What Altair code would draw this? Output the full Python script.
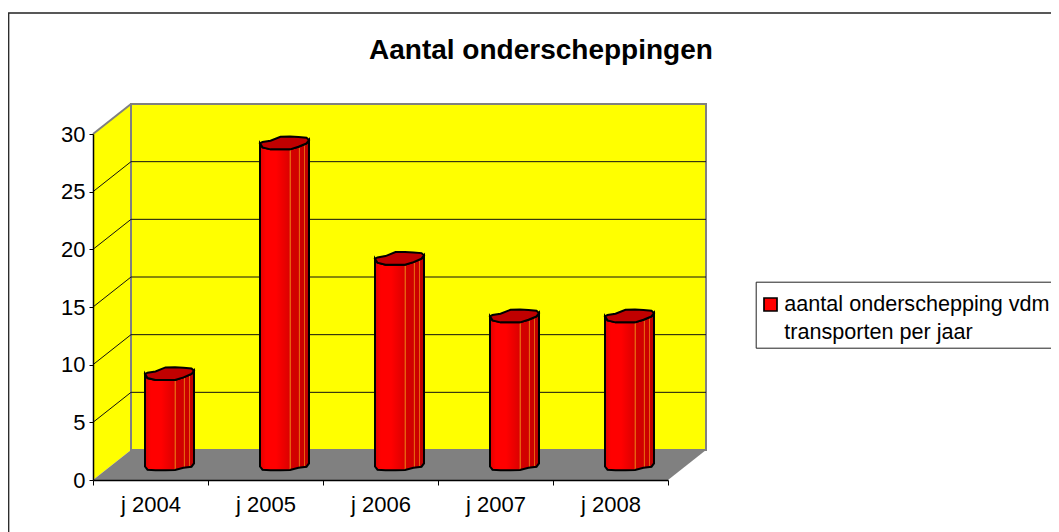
import altair as alt
import pandas as pd

FONT = "Liberation Sans"
years = ["j 2004", "j 2005", "j 2006", "j 2007", "j 2008"]
counts = [8, 28, 18, 13, 13]
legend_lines = ["aantal onderschepping vdm", "transporten per jaar"]
y_ticks = [0, 5, 10, 15, 20, 25, 30]
title_text = "Aantal onderscheppingen"

# plot scale: one category = 115 px, one count = 346/30 px
PX_X = 115.0
PX_Y = 346.0 / 30
DX = 38 / PX_X      # depth of the 3D box, in category units
DY = 30 / PX_Y      # depth of the 3D box, in count units

# outline of the cylinder, px relative to its centre
prof_x = [-24.5, -22, -14, -4, 5.5, 14, 22, 24.5]
cap_up = [-1.3, 0, 1.3, 5.3, 5.5, 5, 4.3, 2]
cap_lo = [-1.3, -5.3, -7.3, -7.3, -7.3, -4.7, -1.3, 2]
base = [-1.5, -4.7, -5.2, -5.2, -5, -2.7, -1.7, 1.7]

xs = alt.Scale(domain=[0, 5], nice=False, zero=False)
ys = alt.Scale(domain=[0, 30], nice=False, zero=False)
X = lambda f="x": alt.X(f"{f}:Q", scale=xs, axis=None)
Y = lambda f="y": alt.Y(f"{f}:Q", scale=ys, axis=None)

label_js = "[" + ",".join(f"'{y}'" for y in years) + "]"
x_axis = alt.Axis(
    values=list(range(6)), grid=False, domainColor="black", domainWidth=1.5, tickColor="black",
    tickSize=5, tickWidth=1, labelExpr=f"{label_js}[datum.value] || ''", labelOffset=57.5,
    labelAlign="center", labelFont=FONT, labelFontSize=22, labelColor="black", labelPadding=9,
    labelFlush=False, labelOverlap=False, zindex=1)
y_axis = alt.Axis(
    values=y_ticks, grid=False, domainColor="black", domainWidth=1.5, tickColor="black",
    tickSize=4, tickWidth=1, labelFont=FONT, labelFontSize=22, labelColor="black", labelPadding=4,
    zindex=1)

# chart frame (carries the axes)
frame = alt.Chart(pd.DataFrame([{"x": -0.733, "x2": 9.0, "y": 40.49, "y2": -6.0}])).mark_rect(
    fill="transparent", stroke="#222222", strokeWidth=1.3
).encode(
    x=alt.X("x:Q", scale=xs, title=None, axis=x_axis), x2="x2:Q",
    y=alt.Y("y:Q", scale=ys, title=None, axis=y_axis), y2="y2:Q",
)

# side wall
side = pd.DataFrame({"x": [0, DX], "y": [0, DY], "y2": [30, 30 + DY]})
side_wall = alt.Chart(side).mark_area(color="#ffff00").encode(X(), Y(), y2="y2:Q")

# floor
floor = pd.DataFrame({"x": [0, DX, 5, 5 + DX], "y": [0, 0, 0, DY], "y2": [0, DY, DY, DY]})
floor_mark = alt.Chart(floor).mark_area(color="#808080").encode(X(), Y(), y2="y2:Q")

# back wall
back = pd.DataFrame([{"x": DX, "x2": 5 + DX, "y": DY, "y2": 30 + DY}])
back_wall = alt.Chart(back).mark_rect(fill="#ffff00", stroke="#808080", strokeWidth=2).encode(
    X(), x2="x2:Q", y=Y(), y2="y2:Q"
)

# gridlines
grid_back = pd.DataFrame([{"x": DX, "x2": 5 + DX, "y": v + DY, "y2": v + DY} for v in y_ticks[1:-1]])
grid_side = pd.DataFrame([{"x": 0, "x2": DX, "y": v, "y2": v + DY} for v in y_ticks[1:-1]])
g1 = alt.Chart(grid_back).mark_rule(color="#111111", strokeWidth=1).encode(X(), x2="x2:Q", y=Y(), y2="y2:Q")
g2 = alt.Chart(grid_side).mark_rule(color="#111111", strokeWidth=1).encode(X(), x2="x2:Q", y=Y(), y2="y2:Q")
top_edge = alt.Chart(pd.DataFrame([{"x": 0, "x2": DX, "y": 30, "y2": 30 + DY}])).mark_rule(
    color="#808080", strokeWidth=2
).encode(X(), x2="x2:Q", y=Y(), y2="y2:Q")

# cylinders
body_rows, cap_rows = [], []
for i, (yr, c) in enumerate(zip(years, counts)):
    cx = i + 0.5 + DX / 2
    for px, up, lo, b in zip(prof_x, cap_up, cap_lo, base):
        x = cx + px / PX_X
        body_rows.append({"jaar": yr, "x": x, "y": DY / 2 + b / PX_Y, "y2": c + DY / 2 + lo / PX_Y})
        cap_rows.append({"jaar": yr, "x": x, "y": c + DY / 2 + lo / PX_Y, "y2": c + DY / 2 + up / PX_Y})

ORANGE = "#e86010"
body_fill = alt.Gradient(
    gradient="linear", x1=0, x2=1, y1=0, y2=0,
    stops=[
        alt.GradientStop(offset=0, color="#e00000"),
        alt.GradientStop(offset=0.12, color="#ff0000"),
        alt.GradientStop(offset=0.33, color="#ff0000"),
        alt.GradientStop(offset=0.6, color="#dc0000"),
        alt.GradientStop(offset=0.605, color=ORANGE),
        alt.GradientStop(offset=0.625, color=ORANGE),
        alt.GradientStop(offset=0.63, color="#d40000"),
        alt.GradientStop(offset=0.785, color="#d00000"),
        alt.GradientStop(offset=0.79, color=ORANGE),
        alt.GradientStop(offset=0.81, color=ORANGE),
        alt.GradientStop(offset=0.815, color="#cc0000"),
        alt.GradientStop(offset=0.895, color="#cc0000"),
        alt.GradientStop(offset=0.9, color=ORANGE),
        alt.GradientStop(offset=0.92, color=ORANGE),
        alt.GradientStop(offset=0.925, color="#c00000"),
        alt.GradientStop(offset=1, color="#c00000"),
    ],
)
body = alt.Chart(pd.DataFrame(body_rows)).mark_area(
    fill=body_fill, stroke="black", strokeWidth=2
).encode(X(), Y(), y2="y2:Q", detail="jaar:N")
cap = alt.Chart(pd.DataFrame(cap_rows)).mark_area(
    fill="#c00000", stroke="black", strokeWidth=2
).encode(X(), Y(), y2="y2:Q", detail="jaar:N")

# legend
legend_def = alt.Legend(title=" ", titleFontSize=8, titlePadding=0, orient="none", legendX=662.7, legendY=147.7,
                        fillColor="white", strokeColor="#222222", padding=4,
                        symbolType="square", symbolSize=169, symbolStrokeWidth=1.7,
                        labelFont=FONT, labelFontSize=21.6, labelColor="black", labelLimit=400,
                        labelOffset=3, rowPadding=5, symbolOpacity=1)
legend_layer = alt.Chart(pd.DataFrame({"serie": legend_lines, "x": [0, 0], "y": [0, 0]})).mark_square(size=0).encode(
    x=X(), y=Y(),
    fill=alt.Fill("serie:N", sort=legend_lines,
                  scale=alt.Scale(domain=legend_lines, range=["#ff0000", "transparent"]), legend=legend_def),
    stroke=alt.Stroke("serie:N", sort=legend_lines,
                      scale=alt.Scale(domain=legend_lines, range=["black", "transparent"]), legend=legend_def),
)

chart = alt.layer(
    frame, side_wall, floor_mark, back_wall, g1, g2, top_edge, body, cap, legend_layer
).properties(
    width=575, height=346,
    padding={"left": 85, "top": 126, "right": 383, "bottom": 52},
    autosize=alt.AutoSizeParams(type="none"),
    background="white",
    title=alt.TitleParams(title_text, font=FONT, fontSize=28, fontWeight="bold", color="black",
                          anchor="start", frame="group", dx=276, dy=75, baseline="alphabetic", offset=0),
).resolve_axis(x="independent", y="independent").configure_view(stroke=None)

chart.save("out.html", embed_options={"renderer": "svg", "actions": False})
